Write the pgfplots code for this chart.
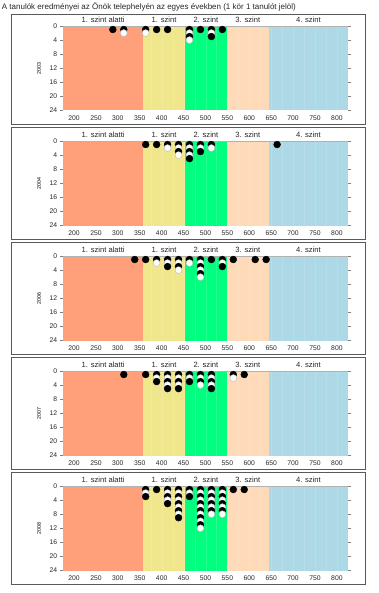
\documentclass[border=0pt]{standalone}
\usepackage{pgfplots}
\usepackage{pgfplotstable}
\pgfplotsset{compat=1.18}
\usepackage{fontspec}
\setmainfont{Liberation Sans}
\definecolor{cOr}{HTML}{FFA07A}
\definecolor{cYe}{HTML}{F0E68C}
\definecolor{cGr}{HTML}{00FF7F}
\definecolor{cPe}{HTML}{FFDAB9}
\definecolor{cBl}{HTML}{ADD8E6}

\pgfplotstableread{
x y c
288.5 1 b
313.5 1 b
313.5 2 w
363.5 1 b
363.5 2 w
388.5 1 b
413.5 1 b
463.5 1 b
463.5 2 w
463.5 3 b
463.5 4 w
488.5 1 b
513.5 1 b
513.5 2 w
513.5 3 b
538.5 1 b
}\tA
\pgfplotstableread{
x y c
363.5 1 b
388.5 1 b
413.5 1 b
413.5 2 w
438.5 1 b
438.5 2 w
438.5 3 b
438.5 4 w
463.5 1 b
463.5 2 w
463.5 3 b
463.5 4 w
463.5 5 b
488.5 1 b
488.5 2 w
488.5 3 b
513.5 1 b
513.5 2 w
663.5 1 b
}\tB
\pgfplotstableread{
x y c
338.5 1 b
363.5 1 b
388.5 1 b
388.5 2 w
413.5 1 b
413.5 2 w
413.5 3 b
438.5 1 b
438.5 2 w
438.5 3 b
438.5 4 w
463.5 1 b
463.5 2 w
488.5 1 b
488.5 2 w
488.5 3 b
488.5 4 w
488.5 5 b
488.5 6 w
513.5 1 b
538.5 1 b
538.5 2 w
538.5 3 b
563.5 1 b
613.5 1 b
638.5 1 b
}\tC
\pgfplotstableread{
x y c
313.5 1 b
363.5 1 b
388.5 1 b
388.5 2 w
388.5 3 b
413.5 1 b
413.5 2 w
413.5 3 b
413.5 4 w
413.5 5 b
438.5 1 b
438.5 2 w
438.5 3 b
438.5 4 w
438.5 5 b
463.5 1 b
463.5 2 w
463.5 3 b
488.5 1 b
488.5 2 w
488.5 3 b
488.5 4 w
513.5 1 b
513.5 2 w
513.5 3 b
513.5 4 w
513.5 5 b
563.5 1 b
563.5 2 w
588.5 1 b
}\tD
\pgfplotstableread{
x y c
363.5 1 b
363.5 2 w
363.5 3 b
388.5 1 b
413.5 1 b
413.5 2 w
413.5 3 b
413.5 4 w
413.5 5 b
438.5 1 b
438.5 2 w
438.5 3 b
438.5 4 w
438.5 5 b
438.5 6 w
438.5 7 b
438.5 8 w
438.5 9 b
463.5 1 b
463.5 2 w
463.5 3 b
488.5 1 b
488.5 2 w
488.5 3 b
488.5 4 w
488.5 5 b
488.5 6 w
488.5 7 b
488.5 8 w
488.5 9 b
488.5 10 w
488.5 11 b
488.5 12 w
513.5 1 b
513.5 2 w
513.5 3 b
513.5 4 w
513.5 5 b
513.5 6 w
513.5 7 b
513.5 8 w
538.5 1 b
538.5 2 w
538.5 3 b
538.5 4 w
538.5 5 b
538.5 6 w
538.5 7 b
538.5 8 w
563.5 1 b
588.5 1 b
}\tE

\tikzset{lab/.style={font=\fontsize{7.6}{9}\selectfont, anchor=base, yshift=3.3pt, text=black!85}}
\pgfplotsset{
 panel/.style={
  scale only axis, width=285pt, height=84.5pt,
  anchor=north west,
  xmin=175.5, xmax=826, ymin=0, ymax=24, y dir=reverse,
  xtick={200,250,...,800}, ytick={0,4,...,24},
  axis line style={draw=none},
  tick align=outside, major tick length=3pt,
  xtick style={draw=none}, ytick style={gray, line width=0.5pt},
  ticklabel style={font=\fontsize{6.8}{8}\selectfont, text=black!85},
  /pgf/number format/assume math mode=true,
  xticklabel style={yshift=1.5pt},
  yticklabel style={xshift=0.5pt},
  ylabel style={font=\fontsize{5.3}{6}\selectfont, at={(axis description cs:-0.085,0.5)}, anchor=center},
  clip=false,
  ylabel={#1},
 },
 band/.style={draw=none, fill=#1, forget plot},
 dots/.style={scatter, only marks, mark=*, mark size=3.45pt, scatter src=explicit symbolic,
   scatter/classes={b={mark=*, draw=black, fill=black}, w={mark=*, draw=gray!55, fill=white}}},
}

\newcommand{\bands}{%
  \addplot[band=cOr] coordinates {(175.5,0) (358,0) (358,24) (175.5,24)};
  \addplot[band=cYe] coordinates {(358,0) (453,0) (453,24) (358,24)};
  \addplot[band=cGr] coordinates {(453,0) (549,0) (549,24) (453,24)};
  \addplot[band=cPe] coordinates {(549,0) (644,0) (644,24) (549,24)};
  \addplot[band=cBl] coordinates {(644,0) (826,0) (826,24) (644,24)};
  \addplot[ycomb, white, opacity=0.14, line width=0.8pt, forget plot] coordinates {(376,24) (401,24) (426,24) (451,24) (476,24) (501,24) (526,24) (551,24) (576,24) (601,24) (626,24) (651,24) (676,24) (701,24) (726,24) (751,24) (776,24) (801,24)};
  \addplot[gray!60, line width=0.5pt, forget plot] coordinates {(175.5,0) (826,0)};
  \node[lab] at (axis cs:266.5,0) {1. szint alatti};
  \node[lab] at (axis cs:405.5,0) {1. szint};
  \node[lab] at (axis cs:501,0) {2. szint};
  \node[lab] at (axis cs:596.5,0) {3. szint};
  \node[lab] at (axis cs:735,0) {4. szint};
}

\begin{document}
\begin{tikzpicture}
\path[use as bounding box] (0pt,0pt) rectangle (379pt,-593pt);
\node[anchor=west, font=\fontsize{8}{9}\selectfont, text=black!85, inner sep=0pt] at (1.7pt,-7pt) {A tanulók eredményei az Önök telephelyén az egyes években (1 kör 1 tanulót jelöl)};
\foreach \t/\b in {14/124.6, 127.3/239.6, 242.3/354.6, 357.3/469.6, 472.3/584.4}{
  \draw[black!65, line width=0.8pt] (11pt,-\t pt) rectangle (365pt,-\b pt);
}
\begin{axis}[panel=2003, at={(63.3pt,-26pt)}]
\bands
\addplot[dots] table[x=x, y=y, meta=c] {\tA};
\end{axis}
\begin{axis}[panel=2004, at={(63.3pt,-141pt)}]
\bands
\addplot[dots] table[x=x, y=y, meta=c] {\tB};
\end{axis}
\begin{axis}[panel=2006, at={(63.3pt,-256pt)}]
\bands
\addplot[dots] table[x=x, y=y, meta=c] {\tC};
\end{axis}
\begin{axis}[panel=2007, at={(63.3pt,-371pt)}]
\bands
\addplot[dots] table[x=x, y=y, meta=c] {\tD};
\end{axis}
\begin{axis}[panel=2008, at={(63.3pt,-486pt)}]
\bands
\addplot[dots] table[x=x, y=y, meta=c] {\tE};
\end{axis}
\end{tikzpicture}
\end{document}
